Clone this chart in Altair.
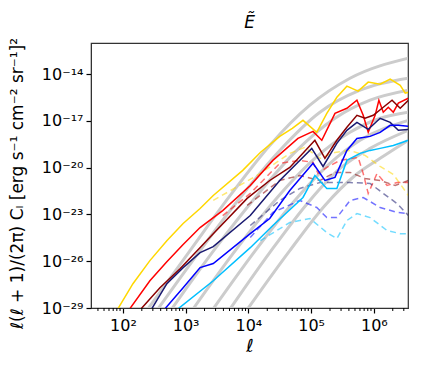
import math
import altair as alt
import pandas as pd

# ---- data: log10(ell) and log10(value) ----
yellow_logl = [1.92, 2.16, 2.43, 2.70, 2.96, 3.23, 3.44, 3.91, 4.19, 4.50, 4.70, 4.87, 5.09, 5.25, 5.41, 5.57, 5.75, 5.91, 6.10, 6.26, 6.42, 6.50, 6.55]
yellow_logc = [-29.05, -27.44, -25.96, -24.68, -23.58, -22.62, -21.78, -20.17, -19.02, -17.99, -17.47, -16.96, -17.73, -16.51, -15.48, -14.77, -15.09, -14.51, -14.64, -14.32, -14.71, -15.22, -15.16]

red_logl = [2.11, 2.43, 2.70, 2.96, 3.23, 3.59, 4.03, 4.39, 4.79, 5.03, 5.17, 5.38, 5.57, 5.73, 5.83, 5.91, 6.02, 6.08, 6.15, 6.23, 6.31, 6.39, 6.55]
red_logc = [-29.05, -27.25, -26.03, -24.93, -23.84, -22.75, -21.14, -19.53, -18.12, -17.67, -18.24, -16.51, -16.19, -15.67, -16.64, -17.73, -16.64, -15.67, -16.44, -16.12, -16.44, -15.86, -15.54]

darkred_logl = [2.29, 2.59, 2.91, 3.44, 3.98, 4.34, 4.66, 5.06, 5.22, 5.41, 5.57, 5.73, 5.86, 5.99, 6.15, 6.29, 6.42, 6.55]
darkred_logc = [-29.05, -27.70, -26.48, -24.23, -21.97, -20.82, -19.98, -18.24, -19.40, -18.24, -17.41, -16.64, -16.83, -16.64, -16.12, -15.67, -16.19, -15.67]

navy_logl = [2.46, 2.70, 2.96, 3.23, 3.44, 4.03, 4.50, 5.01, 5.19, 5.41, 5.57, 5.73, 5.91, 6.10, 6.26, 6.39, 6.55]
navy_logc = [-29.05, -27.44, -26.41, -25.45, -25.06, -23.07, -20.82, -18.76, -19.92, -18.44, -17.60, -17.09, -17.54, -16.83, -17.09, -17.60, -17.54]

blue_logl = [2.67, 2.96, 3.23, 3.44, 4.03, 4.34, 4.66, 5.03, 5.22, 5.38, 5.57, 5.73, 5.94, 6.10, 6.26, 6.39, 6.55]
blue_logc = [-29.05, -27.70, -26.41, -26.15, -24.23, -23.26, -21.46, -19.72, -20.82, -20.62, -18.89, -18.12, -17.99, -17.73, -17.28, -17.28, -17.34]

sky_logl = [2.88, 3.44, 4.03, 4.39, 4.87, 5.06, 5.25, 5.41, 5.57, 5.78, 5.94, 6.10, 6.31, 6.55]
sky_logc = [-29.05, -27.25, -25.13, -23.71, -21.91, -20.50, -21.33, -21.33, -19.53, -19.08, -18.89, -18.76, -18.57, -18.24]

# dashed companions
yellow_d_logl = [3.44, 4.19, 4.66, 4.90, 5.14, 5.38, 5.62, 5.86, 6.10, 6.31, 6.55]
yellow_d_logc = [-22.10, -20.37, -19.08, -18.69, -19.40, -19.02, -18.89, -19.21, -19.92, -20.43, -21.78]
red_d_logl = [3.59, 4.03, 4.50, 4.82, 5.03, 5.11, 5.25, 5.46, 5.75, 5.83, 5.91, 6.05, 6.21, 6.37, 6.55]
red_d_logc = [-23.07, -21.65, -19.72, -19.53, -19.66, -20.37, -19.98, -19.53, -19.34, -20.37, -21.65, -20.37, -21.14, -20.95, -20.95]
darkred_d_logl = [3.98, 4.50, 4.82, 5.14, 5.38, 5.62, 5.86, 6.10, 6.34, 6.55]
darkred_d_logc = [-22.42, -20.82, -20.50, -20.82, -20.30, -20.30, -20.69, -20.82, -21.14, -20.82]
navy_d_logl = [4.03, 4.50, 4.82, 5.14, 5.62, 5.94, 6.15, 6.37, 6.55]
navy_d_logc = [-23.71, -22.10, -21.33, -20.95, -20.95, -21.01, -21.65, -22.30, -23.07]
blue_d_logl = [4.03, 4.39, 4.82, 5.09, 5.25, 5.41, 5.62, 5.83, 6.10, 6.37, 6.55]
blue_d_logc = [-24.48, -22.87, -22.10, -22.55, -23.20, -23.20, -22.10, -21.91, -22.55, -22.87, -22.94]
sky_d_logl = [4.19, 4.66, 4.98, 5.25, 5.41, 5.57, 5.73, 5.94, 6.21, 6.42, 6.55]
sky_d_logc = [-24.68, -23.52, -23.26, -24.16, -24.55, -23.39, -22.94, -23.20, -24.03, -24.23, -24.23]

# grey reference curves
grey_logl = [
    [2.40, 3.07, 3.71, 4.34, 4.98, 5.62, 6.55],
    [2.56, 3.23, 3.87, 4.50, 5.14, 5.78, 6.55],
    [2.78, 3.47, 4.11, 4.74, 5.38, 5.94, 6.55],
    [3.12, 3.79, 4.42, 5.06, 5.62, 6.10, 6.55],
    [3.44, 4.11, 4.74, 5.30, 5.78, 6.55],
    [3.71, 4.34, 4.98, 5.46, 5.94, 6.55],
    [3.99, 4.66, 5.22, 5.70, 6.10, 6.55],
]
grey_logc = [
    [-29.05, -25.32, -21.78, -18.57, -15.99, -14.26, -12.97],
    [-29.05, -25.32, -21.91, -18.89, -16.44, -15.03, -14.26],
    [-29.05, -25.19, -21.91, -19.02, -16.83, -15.67, -15.03],
    [-29.05, -25.32, -22.10, -19.40, -17.73, -16.83, -16.44],
    [-29.05, -25.32, -22.10, -19.72, -18.24, -16.96],
    [-29.05, -25.45, -22.10, -20.05, -18.76, -17.60],
    [-29.05, -25.32, -22.42, -20.50, -19.40, -18.24],
]

names = ["yellow", "red", "darkred", "navy", "blue", "sky"]
colors = ["#FFD700", "#FF0000", "#8B0000", "#191970", "#0000FF", "#00BFFF"]
solid = [(yellow_logl, yellow_logc), (red_logl, red_logc), (darkred_logl, darkred_logc),
         (navy_logl, navy_logc), (blue_logl, blue_logc), (sky_logl, sky_logc)]
dashed = [(yellow_d_logl, yellow_d_logc), (red_d_logl, red_d_logc), (darkred_d_logl, darkred_d_logc),
          (navy_d_logl, navy_d_logc), (blue_d_logl, blue_d_logc), (sky_d_logl, sky_d_logc)]

rows = []
for n, (ll, lc) in zip(names, solid):
    for i, (a, b) in enumerate(zip(ll, lc)):
        rows.append({"series": n, "kind": "solid", "id": n + "_s", "idx": i, "ell": 10 ** a, "val": 10 ** b})
for n, (ll, lc) in zip(names, dashed):
    for i, (a, b) in enumerate(zip(ll, lc)):
        rows.append({"series": n, "kind": "dashed", "id": n + "_d", "idx": i, "ell": 10 ** a, "val": 10 ** b})
for g, (ll, lc) in enumerate(zip(grey_logl, grey_logc)):
    for i, (a, b) in enumerate(zip(ll, lc)):
        rows.append({"series": "grey", "kind": "grey", "id": f"g{g}", "idx": i, "ell": 10 ** a, "val": 10 ** b})
df = pd.DataFrame(rows)

x_major = [1e2, 1e3, 1e4, 1e5, 1e6]
x_minor = [m * 10 ** k for k in range(1, 7) for m in range(2, 10) if 31 <= m * 10 ** k <= 3.5e6]
y_major = [1e-29, 1e-26, 1e-23, 1e-20, 1e-17, 1e-14]
minor_df = pd.DataFrame({"ell": x_minor})

sup = str.maketrans("-0123456789", "⁻⁰¹²³⁴⁵⁶⁷⁸⁹")
def label_expr(vals):
    expr = "''"
    for v in vals:
        e = int(round(math.log10(v)))
        expr = f"round(log(datum.value)/LN10) == {e} ? '10{str(e).translate(sup)}' : ({expr})"
    return expr

xscale = alt.Scale(type="log", domain=[31, 3.5e6])
yscale = alt.Scale(type="log", domain=[1e-29, 1e-12])

xaxis = alt.Axis(values=x_major, labelExpr=label_expr(x_major), title="ℓ", grid=False, orient="bottom",
                 tickSize=5, tickWidth=1.2, labelFontSize=16, titleFontSize=18,
                 titleFontStyle="italic", titleFontWeight="normal", labelPadding=4, titlePadding=4)
yaxis = alt.Axis(values=y_major, labelExpr=label_expr(y_major),
                 title="ℓ(ℓ + 1)/(2π) Cₗ [erg s⁻¹ cm⁻² sr⁻¹]²", grid=False,
                 tickSize=5, tickWidth=1.2, labelFontSize=16, titleFontSize=17,
                 titleFontWeight="normal", labelPadding=3, titleX=-65, titleY=140,
                 titleAnchor="middle")

X = alt.X("ell:Q", scale=xscale, axis=xaxis)
Y = alt.Y("val:Q", scale=yscale, axis=yaxis)
cscale = alt.Scale(domain=names, range=colors)

base = alt.Chart(df)
grey = base.transform_filter("datum.kind == 'grey'").mark_line(
    strokeWidth=3, color="#cccccc", interpolate="monotone", clip=True
).encode(x=X, y=Y, detail="id:N", order="idx:Q")
dash = base.transform_filter("datum.kind == 'dashed'").mark_line(
    strokeWidth=1.5, strokeDash=[6, 4], opacity=0.55, clip=True
).encode(x=X, y=Y, color=alt.Color("series:N", scale=cscale, legend=None), detail="id:N", order="idx:Q")
sol = base.transform_filter("datum.kind == 'solid'").mark_line(
    strokeWidth=1.5, clip=True
).encode(x=X, y=Y, color=alt.Color("series:N", scale=cscale, legend=None), detail="id:N", order="idx:Q")

minor = alt.Chart(minor_df).mark_rule(color="black", strokeWidth=1).encode(
    x=alt.X("ell:Q", scale=xscale, axis=xaxis),
    y=alt.value(265), y2=alt.value(268),
)

chart = alt.layer(grey, dash, sol, minor).properties(
    width=317, height=265,
    title=alt.TitleParams("Ẽ", fontSize=17, fontStyle="italic", fontWeight="normal", offset=6),
    autosize=alt.AutoSizeParams(type="none"),
    padding={"left": 83, "top": 35, "right": 8, "bottom": 50},
).configure_view(stroke="#333", strokeWidth=1.2).configure_axis(
    labelFont="DejaVu Sans", titleFont="DejaVu Sans", labelColor="black", titleColor="black",
    domainColor="#333", tickColor="black"
).configure_title(font="DejaVu Sans", color="black")

chart.save("out.html", embed_options={"renderer": "svg", "actions": False})
